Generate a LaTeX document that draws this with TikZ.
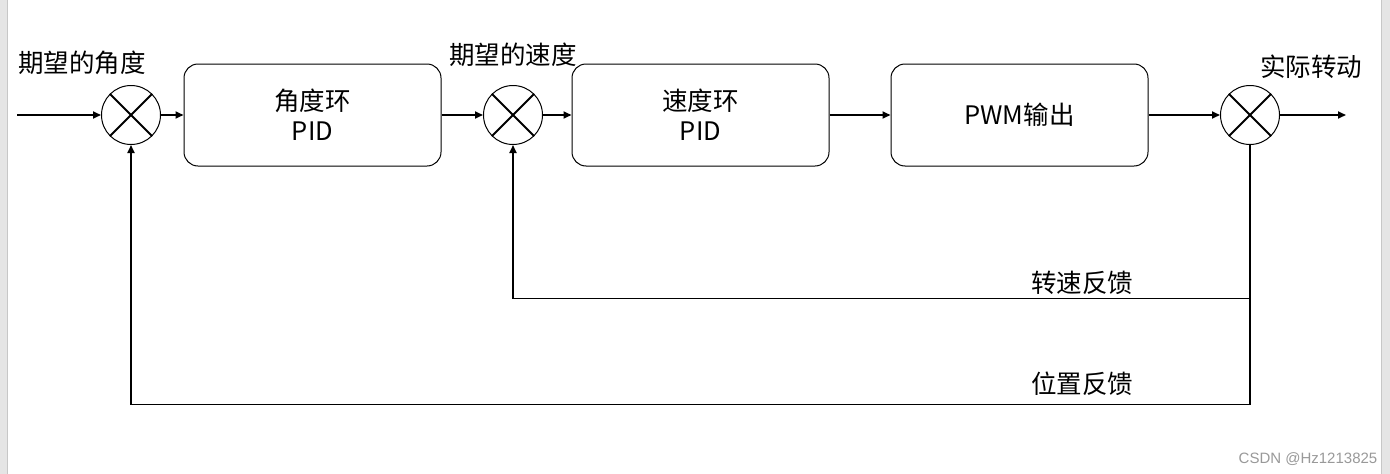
\documentclass[tikz,border=0pt]{standalone}
\usepackage{fontspec}
\setmainfont{Noto Sans CJK SC}
\newfontfamily\wmfont{Liberation Sans}
\usetikzlibrary{arrows.meta}
\begin{document}
\begin{tikzpicture}[x=1pt,y=-1pt,
  arr/.style={line width=1.8pt,-{Triangle[length=8pt,width=7pt]}},
  sumj/.style={circle,draw,line width=1pt,minimum size=59pt,inner sep=0pt},
  blk/.style={draw,line width=1pt,rounded corners=14pt,minimum width=257pt,minimum height=102pt,align=center,font=\fontsize{25.5}{30}\selectfont},
  lbl/.style={font=\fontsize{25.5}{28}\selectfont,inner sep=0pt}]
\useasboundingbox (0,0) rectangle (1390,474);
\fill[white] (0,0) rectangle (1390,474);
\fill[black!10] (0,0) rectangle (7,474);
\draw[black!22,line width=1pt] (7,0) -- (7,474);
\fill[black!10] (1381,0) rectangle (1390,474);
\draw[black!22,line width=1pt] (1381,0) -- (1381,474);

\node[sumj] (s1) at (131,115) {};
\node[sumj] (s2) at (513,115) {};
\node[sumj] (s3) at (1250,115) {};
\foreach \s in {s1,s2,s3}{
  \draw[line width=1.8pt] (\s.north west) -- (\s.south east);
  \draw[line width=1.8pt] (\s.north east) -- (\s.south west);
}

\node[blk] (b1) at (312.5,115) {角度环\\PID};
\node[blk] (b2) at (700.5,115) {速度环\\PID};
\node[blk] (b3) at (1019.5,115) {PWM输出};

\coordinate (in) at (17,115);
\coordinate (out) at (1346,115);
\draw[arr] (in) -- (s1.west);
\draw[arr] (s1.east) -- (b1.west);
\draw[arr] (b1.east) -- (s2.west);
\draw[arr] (s2.east) -- (b2.west);
\draw[arr] (b2.east) -- (b3.west);
\draw[arr] (b3.east) -- (s3.west);
\draw[arr] (s3.east) -- (out);

\draw[arr] (s3.south) -- ++(0,153.5) -| (s2.south);
\draw[arr] (s3.south) -- ++(0,259.5) -| (s1.south);

\node[lbl] (t1) at (82,63) {期望的角度};
\node[lbl] (t2) at (513,55) {期望的速度};
\node[lbl] (t3) at (1311,67) {实际转动};
\node[lbl] (t4) at (1082,283) {转速反馈};
\node[lbl] (t5) at (1082,384) {位置反馈};
\node[font=\wmfont\fontsize{15}{17}\selectfont,text=black!40,inner sep=0pt] (wm) at (1308,459) {CSDN @Hz1213825};
\end{tikzpicture}
\end{document}
